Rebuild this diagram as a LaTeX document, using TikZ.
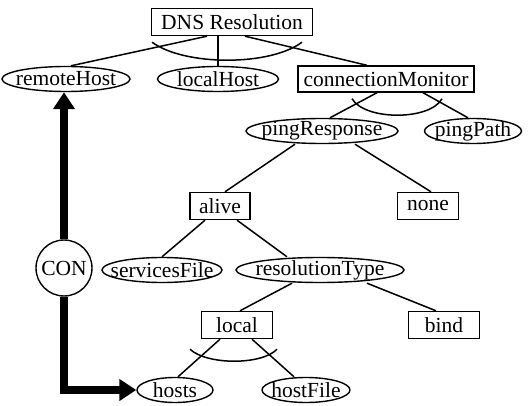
\documentclass[tikz,border=0pt]{standalone}
\usepackage{fontspec}
\setmainfont{Liberation Serif}
\usetikzlibrary{shapes.geometric,arrows.meta,calc}
\tikzset{
	box/.style={draw, rectangle, line width=1.4pt, inner sep=0pt, minimum height=27pt},
	oval/.style={draw, ellipse, line width=1.4pt, inner xsep=-30pt, inner ysep=-8pt, minimum height=25pt},
	edge/.style={line width=1.5pt},
	conlink/.style={line width=7.5pt, -{Triangle[length=17pt,width=21pt]}}
}
\begin{document}
\begin{tikzpicture}[x=1pt, y=-1pt, font=\fontsize{21.5}{24}\selectfont]
	\useasboundingbox (0, 0) rectangle (530, 406);
	% nodes, row by row
	\node (dns) at (232, 22) [box, minimum width=161pt] {DNS Resolution};
	\node (remote) at (66, 79) [oval, minimum width=128pt] {remoteHost};
	\node (localhost) at (218, 79) [oval, minimum width=121pt] {localHost};
	\node (monitor) at (386, 79) [box, minimum width=176pt, minimum height=26pt] {connectionMonitor};
	\node (ping) at (322, 131) [oval, minimum width=152pt] {pingResponse};
	\node (pingpath) at (473, 131) [oval, minimum width=97pt] {pingPath};
	\node (alive) at (220, 206) [box, minimum width=60pt] {alive};
	\node (none) at (428, 206) [box, minimum width=61pt] {none};
	\node (con) at (64, 268) [draw, circle, line width=1.4pt, inner sep=0pt, minimum size=56pt] {CON};
	\node (services) at (162, 270) [oval, minimum width=120pt] {servicesFile};
	\node (restype) at (320, 270) [oval, minimum width=168pt] {resolutionType};
	\node (local) at (237, 325) [box, minimum width=71pt] {local};
	\node (bind) at (444, 325) [box, minimum width=71pt] {bind};
	\node (hosts) at (175, 390) [oval, minimum width=76pt] {hosts};
	\node (hostfile) at (306, 390) [oval, minimum width=88pt] {hostFile};
	% tree edges
	\draw[edge] ([xshift=-25pt]dns.south) -- ([xshift=5pt]remote.north);
	\draw[edge] ([xshift=-14pt]dns.south) -- (localhost.north);
	\draw[edge] ([xshift=13pt]dns.south) -- ([xshift=-19pt]monitor.north);
	\draw[edge] ([xshift=-9pt]monitor.south) -- ([xshift=8pt]ping.north);
	\draw[edge] ([xshift=37pt]monitor.south) -- ([xshift=-5pt]pingpath.north);
	\draw[edge] ([xshift=-27pt]ping.south) -- ([xshift=5pt]alive.north);
	\draw[edge] ([xshift=33pt]ping.south) -- ([xshift=3pt]none.north);
	\draw[edge] ([xshift=-15pt]alive.south) -- (services.north);
	\draw[edge] ([xshift=17pt]alive.south) -- ([xshift=-33pt]restype.north);
	\draw[edge] ([xshift=-28pt]restype.south) -- ([xshift=3pt]local.north);
	\draw[edge] ([xshift=47pt]restype.south) -- ([xshift=-8pt]bind.north);
	\draw[edge] ([xshift=-17pt]local.south) -- ([xshift=3pt]hosts.north);
	\draw[edge] ([xshift=15pt]local.south) -- ([xshift=-12pt]hostfile.north);
	% and-arcs
	\draw[edge] ($(dns.south)+(-80,6)$) .. controls ($(dns.south)+(-47,30)$) and ($(dns.south)+(38,30)$) .. ($(dns.south)+(70,6)$);
	\draw[edge] ($(monitor.south)+(-34,6)$) .. controls ($(monitor.south)+(-21,28)$) and ($(monitor.south)+(44,28)$) .. ($(monitor.south)+(56,6)$);
	\draw[edge] ($(local.south)+(-47,10)$) .. controls ($(local.south)+(-30,26)$) and ($(local.south)+(25,26)$) .. ($(local.south)+(40,10)$);
	% CON links
	\draw[conlink] (con.north) -- (con.north |- remote.south);
	\draw[conlink] (con.south) |- (hosts.west);
\end{tikzpicture}
\end{document}
